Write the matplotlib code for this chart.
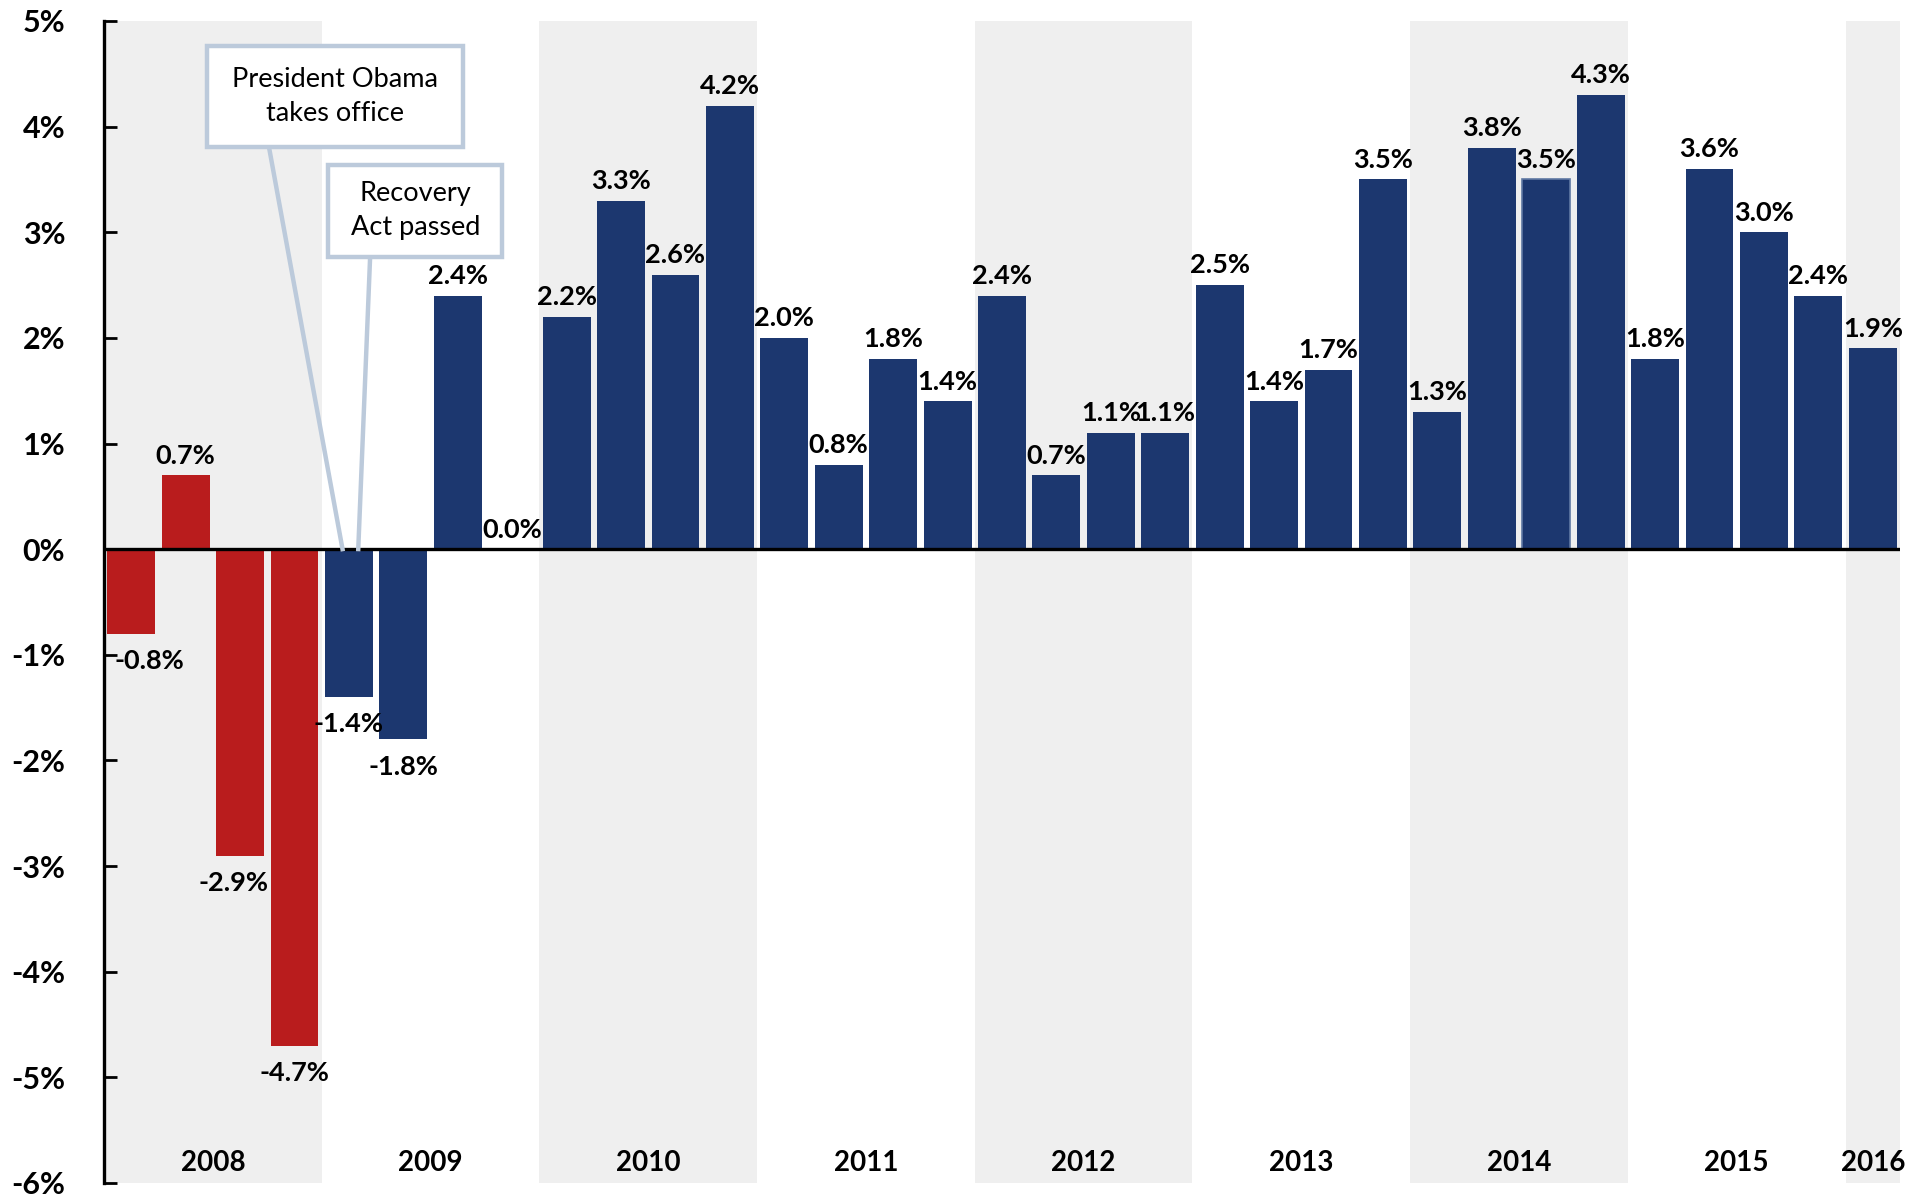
import matplotlib
matplotlib.use('Agg')
import matplotlib.pyplot as plt
from matplotlib.patches import Rectangle

plt.rcParams['font.family'] = ['Lato', 'DejaVu Sans']

# ---- data ----
years = ['2008', '2009', '2010', '2011', '2012', '2013', '2014', '2015', '2016']
quarters_per_year = [4, 4, 4, 4, 4, 4, 4, 4, 1]
growth = [-0.8, 0.7, -2.9, -4.7,
          -1.4, -1.8, 2.4, 0.0,
          2.2, 3.3, 2.6, 4.2,
          2.0, 0.8, 1.8, 1.4,
          2.4, 0.7, 1.1, 1.1,
          2.5, 1.4, 1.7, 3.5,
          1.3, 3.8, 3.5, 4.3,
          1.8, 3.6, 3.0, 2.4,
          1.9]
administration = ['Bush'] * 4 + ['Obama'] * 29
yticks = [-6, -5, -4, -3, -2, -1, 0, 1, 2, 3, 4, 5]
annotations = ['President Obama\ntakes office', 'Recovery\nAct passed']

RED = '#b91c1d'
NAVY = '#1c376f'
BAND = '#efefef'
CALLOUT = '#bccadb'

fig = plt.figure(figsize=(19.27, 11.95), dpi=100)
ax = fig.add_axes([104 / 1927, 1 - 1183 / 1195, (1900 - 104) / 1927, (1183 - 21) / 1195])

n = len(growth)
ax.set_xlim(-0.5, n - 0.5)
ax.set_ylim(-6, 5)

# year bands and labels
start = 0
for k, (yr, nq) in enumerate(zip(years, quarters_per_year)):
    lo, hi = start, start + nq - 1
    if k % 2 == 0:
        ax.axvspan(lo - 0.5, hi + 0.5, color=BAND, lw=0, zorder=0)
    ax.text((lo + hi) / 2, -5.81, yr, ha='center', va='center',
            fontsize=20, fontweight='bold', zorder=6)
    start += nq

colors = [RED if a == 'Bush' else NAVY for a in administration]
bars = ax.bar(range(n), growth, width=0.88, color=colors, zorder=2, lw=0)
bars[26].set_edgecolor('#6079a3')
bars[26].set_linewidth(1.2)

ax.axhline(0, color='black', lw=2.4, zorder=3)

label_dx = {0: 13, 2: -5}
for i, v in enumerate(growth):
    dx = label_dx.get(i, 0)
    if v >= 0:
        ax.annotate(f'{v:.1f}%', (i, v), xytext=(dx, 5.5), textcoords='offset points',
                    ha='center', va='bottom', fontsize=19.5, fontweight='bold', zorder=6)
    else:
        ax.annotate(f'{v:.1f}%', (i, v), xytext=(dx, -11), textcoords='offset points',
                    ha='center', va='top', fontsize=19.5, fontweight='bold', zorder=6)

# callouts
ax.plot([2.53, 3.89], [3.81, -0.02], color=CALLOUT, lw=3.2, zorder=4, solid_capstyle='butt')
ax.plot([4.39, 4.17], [2.77, -0.02], color=CALLOUT, lw=3.2, zorder=4, solid_capstyle='butt')

ax.add_patch(Rectangle((1.39, 3.81), 4.71, 0.95, fc='white', ec=CALLOUT, lw=3.2, zorder=5))
ax.text(3.745, 4.285, annotations[0], ha='center', va='center', fontsize=19.5,
        linespacing=1.45, zorder=6)
ax.add_patch(Rectangle((3.62, 2.77), 3.2, 0.87, fc='white', ec=CALLOUT, lw=3.2, zorder=5))
ax.text(5.22, 3.205, annotations[1], ha='center', va='center', fontsize=19.5,
        linespacing=1.45, zorder=6)

# axes styling
for s in ['top', 'right', 'bottom']:
    ax.spines[s].set_visible(False)
ax.spines['left'].set_linewidth(2.4)
ax.set_xticks([])
ax.set_yticks(yticks)
ax.set_yticklabels([f'{t}%' for t in yticks], fontsize=22, fontweight='bold')
ax.tick_params(axis='y', direction='in', length=9, width=2, pad=28)

fig.savefig('out.png', dpi=100)
